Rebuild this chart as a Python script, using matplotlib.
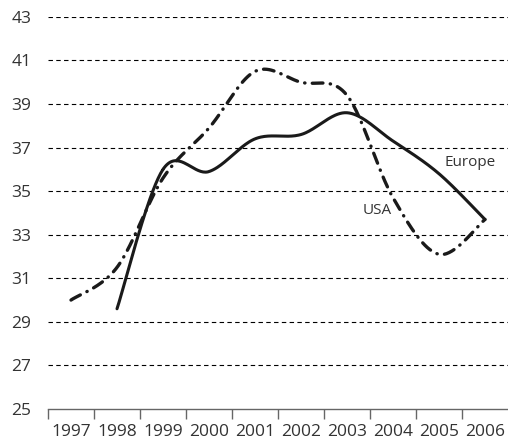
import numpy as np
from matplotlib import pyplot as plt

years = ['1997', '1998', '1999', '2000', '2001', '2002', '2003', '2004', '2005', '2006']
usa = [30.0, 31.5, 35.6, 37.9, 40.5, 40.0, 39.4, 34.7, 32.1, 33.7]
europe = [None, 29.6, 36.0, 35.9, 37.4, 37.6, 38.6, 37.3, 35.8, 33.7]
yticks = [25, 27, 29, 31, 33, 35, 37, 39, 41, 43]


def smooth(xs, ys, n=40):
    # catmull-rom through the points, ends repeated like a "smoothed line" chart
    xs = np.asarray(xs, float)
    ys = np.asarray(ys, float)
    px = np.concatenate([[xs[0]], xs, [xs[-1]]])
    py = np.concatenate([[ys[0]], ys, [ys[-1]]])
    outx, outy = [], []
    t = np.linspace(0, 1, n)
    for i in range(1, len(px) - 2):
        for p, out in ((px, outx), (py, outy)):
            p0, p1, p2, p3 = p[i - 1], p[i], p[i + 1], p[i + 2]
            out.extend(0.5 * ((2 * p1) + (-p0 + p2) * t +
                              (2 * p0 - 5 * p1 + 4 * p2 - p3) * t ** 2 +
                              (-p0 + 3 * p1 - 3 * p2 + p3) * t ** 3))
    return outx, outy


plt.rcParams['font.family'] = ['Open Sans', 'DejaVu Sans']
fig = plt.figure(figsize=(5.08, 4.45), dpi=100)
ax = fig.add_axes([0.0945, 0.081, 0.9055, 0.881])

for v in yticks[1:]:
    ax.axhline(v, color='black', lw=0.8, ls=(0, (4, 3)), zorder=1)

x = np.arange(len(years))
ux, uy = smooth(x, usa)
ax.plot(ux, uy, color='#1a1a1a', lw=2.4, ls=(0, (3.2, 2.2, 0.1, 2.2)),
        solid_capstyle='round', dash_capstyle='round', zorder=3)
ex_idx = [i for i, v in enumerate(europe) if v is not None]
ex, ey = smooth(x[ex_idx], [europe[i] for i in ex_idx])
ax.plot(ex, ey, color='#1a1a1a', lw=2.2, solid_capstyle='round', zorder=3)

ax.text(6.33, 34.1, 'USA', fontsize=11, color='#333333', va='center')
ax.text(8.13, 36.3, 'Europe', fontsize=11, color='#333333', va='center')

ax.set_xlim(-0.5, len(years) - 0.5)
ax.set_ylim(25, 43)
ax.set_yticks(yticks)
ax.set_xticks(x)
ax.set_xticklabels(years)
ax.set_xticks(np.arange(-0.5, len(years) - 0.5, 1), minor=True)
ax.tick_params(axis='x', which='major', length=0, pad=11, labelsize=12.5, labelcolor='#333333')
ax.tick_params(axis='x', which='minor', length=7, width=1, color='#666666', direction='out')
ax.tick_params(axis='y', length=0, pad=12, labelsize=12.5, labelcolor='#333333')
for s in ['top', 'right', 'left']:
    ax.spines[s].set_visible(False)
ax.spines['bottom'].set_color('#666666')
ax.spines['bottom'].set_linewidth(1)

plt.savefig('out.png', dpi=100)
plt.close()
